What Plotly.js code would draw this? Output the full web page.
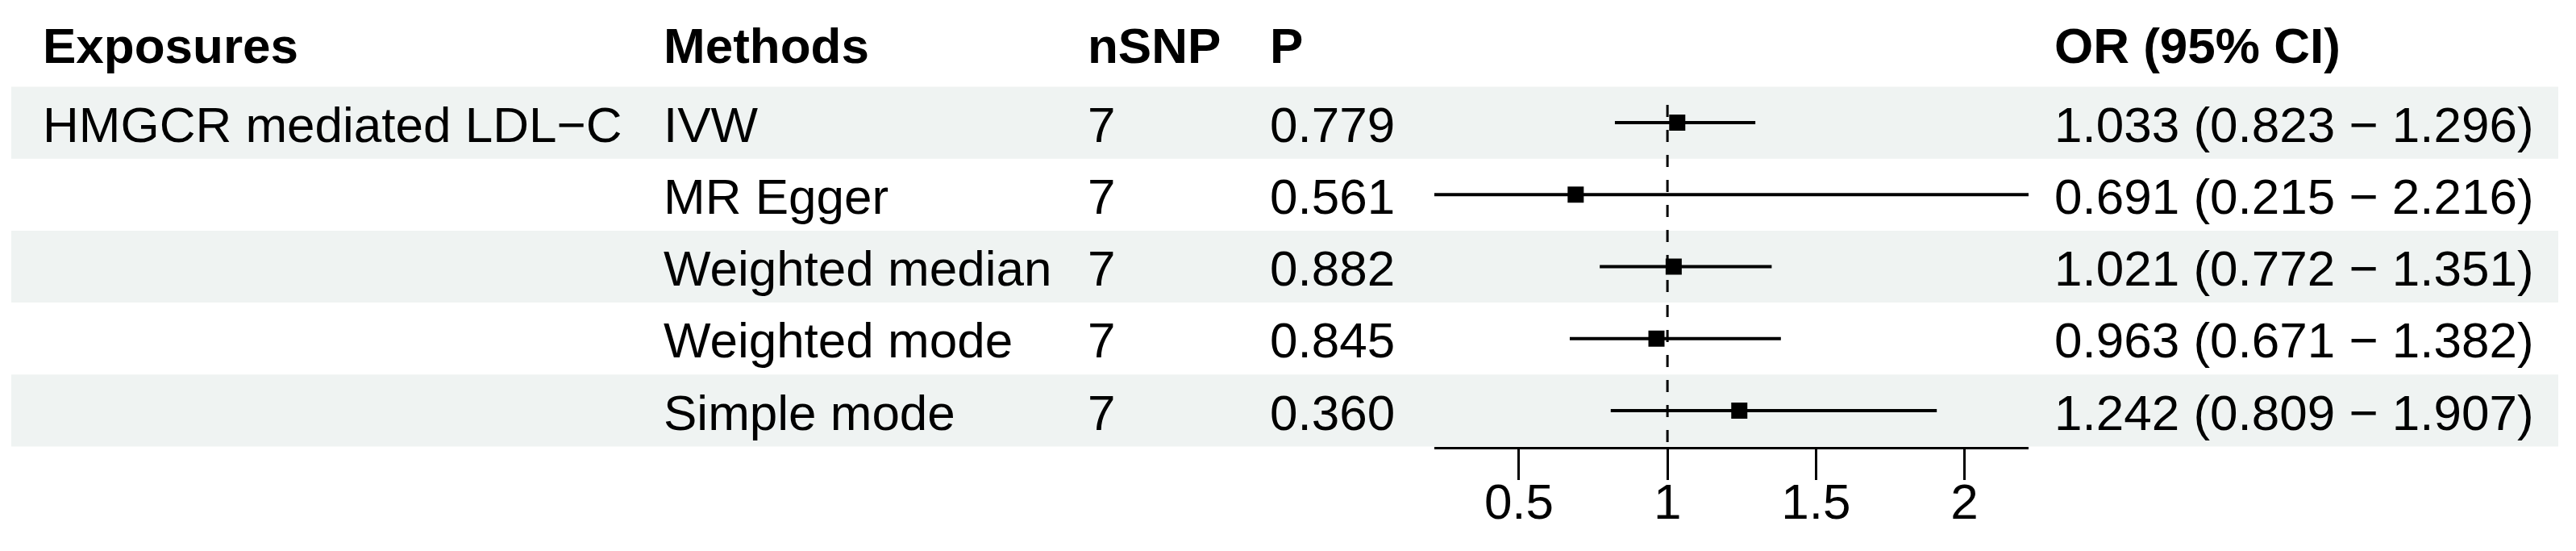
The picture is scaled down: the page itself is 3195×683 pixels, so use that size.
<!DOCTYPE html>
<html>
<head>
<meta charset="utf-8">
<script src="https://cdn.plot.ly/plotly-3.0.1.min.js"></script>
<style>
  html, body { margin: 0; padding: 0; background: #ffffff; }
  #chart { width: 3195px; height: 683px; }
</style>
</head>
<body>
<div id="chart"></div>
<script>
// ---- data ----
const headers = ['Exposures', 'Methods', 'nSNP', 'P', 'OR (95% CI)'];
const exposure = 'HMGCR mediated LDL\u2212C';
const methods = ['IVW', 'MR Egger', 'Weighted median', 'Weighted mode', 'Simple mode'];
const nsnp = [7, 7, 7, 7, 7];
const pval = [0.779, 0.561, 0.882, 0.845, 0.360];
const orVal = [1.033, 0.691, 1.021, 0.963, 1.242];
const ciLow = [0.823, 0.215, 0.772, 0.671, 0.809];
const ciHigh = [1.296, 2.216, 1.351, 1.382, 1.907];
const tickVals = [0.5, 1, 1.5, 2];
const tickText = ['0.5', '1', '1.5', '2'];
const refValue = 1;
const xLimits = [0.215, 2.216];

// ---- layout constants (pixels) ----
const W = 3195, H = 683;
const FONT = '"Liberation Sans", Arial, Helvetica, sans-serif';
const FS = 62;
const colX = [53, 823, 1349, 1575, 2548];           // text origins
const rowIdx = methods.map((_, i) => i);
const headerRow = -1.065;

const px = v => v / W;

// ---- traces ----
const traces = [
  {
    type: 'scatter', mode: 'lines',
    x: [refValue, refValue], y: [-0.2465, 4.504],
    line: { color: '#000000', width: 3, dash: '15px,16px' },
    hoverinfo: 'skip', showlegend: false, cliponaxis: false
  },
  {
    type: 'scatter', mode: 'markers',
    x: orVal, y: rowIdx,
    marker: { symbol: 'square', size: 20, color: '#000000' },
    error_x: {
      type: 'data', symmetric: false,
      array: orVal.map((v, i) => ciHigh[i] - v),
      arrayminus: orVal.map((v, i) => v - ciLow[i]),
      thickness: 4, width: 0, color: '#000000'
    },
    hoverinfo: 'skip', showlegend: false, cliponaxis: false
  }
];

// ---- background bands ----
const shapes = [];
rowIdx.forEach(i => {
  if (i % 2 === 0) {
    shapes.push({
      type: 'rect', layer: 'below',
      xref: 'paper', yref: 'y',
      x0: px(14), x1: px(3173), y0: i - 0.5, y1: i + 0.5,
      fillcolor: '#eff3f2', line: { width: 0 }
    });
  }
});

// ---- text ----
const annotations = [];
function addText(text, col, y, bold, shift) {
  annotations.push({
    text: text, xref: 'paper', yref: 'y',
    x: px(colX[col]), y: y, xanchor: 'left', yanchor: 'middle',
    yshift: shift,
    showarrow: false, borderpad: 0, borderwidth: 0,
    font: { family: FONT, size: FS, color: '#000000', weight: bold ? 'bold' : 'normal' }
  });
}
headers.forEach((h, c) => addText(h, c, headerRow, true, 0));
addText(exposure, 0, 0, false, -2);
rowIdx.forEach(i => {
  addText(methods[i], 1, i, false, -2);
  addText(String(nsnp[i]), 2, i, false, -2);
  addText(pval[i].toFixed(3), 3, i, false, -2);
  addText(orVal[i].toFixed(3) + ' (' + ciLow[i].toFixed(3) + ' \u2212 ' + ciHigh[i].toFixed(3) + ')', 4, i, false, -2);
});

const layout = {
  width: W, height: H,
  margin: { l: 0, r: 0, t: 0, b: 0, pad: 0 },
  paper_bgcolor: '#ffffff', plot_bgcolor: 'rgba(0,0,0,0)',
  showlegend: false,
  font: { family: FONT, size: FS, color: '#000000' },
  xaxis: {
    domain: [px(1779), px(2516)],
    range: xLimits,
    anchor: 'free', position: 1 - 555 / H,
    showline: true, linecolor: '#000000', linewidth: 3,
    ticks: 'outside', ticklen: 38, tickwidth: 3, tickcolor: '#000000',
    ticklabelstandoff: -26,
    tickmode: 'array', tickvals: tickVals, ticktext: tickText,
    tickfont: { family: FONT, size: FS, color: '#000000' },
    showgrid: false, zeroline: false, fixedrange: true
  },
  yaxis: {
    domain: [0, 1],
    range: [5.9496, -1.7031],
    visible: false, showgrid: false, zeroline: false, fixedrange: true
  },
  shapes: shapes,
  annotations: annotations
};

Plotly.newPlot('chart', traces, layout, { displayModeBar: false, staticPlot: true });
</script>
</body>
</html>
